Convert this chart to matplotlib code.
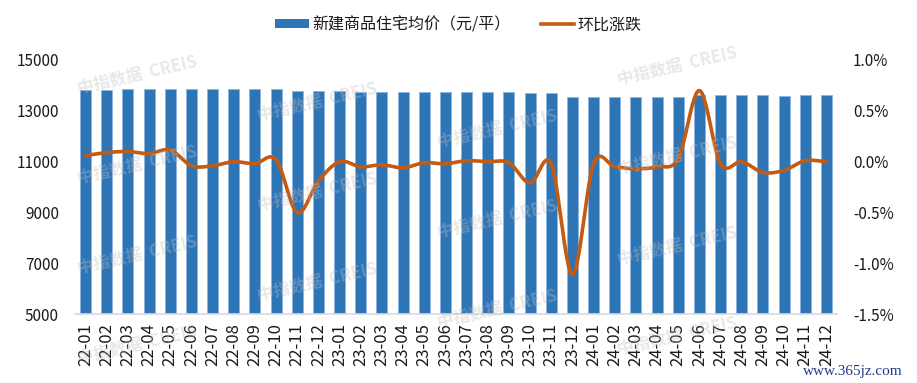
import numpy as np
import matplotlib
matplotlib.use('Agg')
import matplotlib.pyplot as plt
from matplotlib.patches import Patch
from matplotlib.lines import Line2D

months = ['22-01', '22-02', '22-03', '22-04', '22-05', '22-06', '22-07', '22-08', '22-09', '22-10', '22-11', '22-12',
          '23-01', '23-02', '23-03', '23-04', '23-05', '23-06', '23-07', '23-08', '23-09', '23-10', '23-11', '23-12',
          '24-01', '24-02', '24-03', '24-04', '24-05', '24-06', '24-07', '24-08', '24-09', '24-10', '24-11', '24-12']

prices = [13820, 13832, 13846, 13857, 13873, 13867, 13861, 13860, 13857, 13860, 13790, 13764,
          13764, 13757, 13753, 13745, 13744, 13741, 13742, 13742, 13741, 13712, 13710, 13560,
          13557, 13550, 13540, 13533, 13537, 13632, 13629, 13629, 13615, 13604, 13605, 13605]

mom = [0.06, 0.09, 0.10, 0.08, 0.115, -0.04, -0.04, 0.00, -0.02, 0.02, -0.50, -0.19,
       0.00, -0.05, -0.03, -0.06, -0.01, -0.02, 0.01, 0.00, -0.01, -0.21, -0.02, -1.11,
       -0.02, -0.05, -0.07, -0.05, 0.03, 0.70, -0.02, 0.00, -0.105, -0.085, 0.01, 0.00]

yticks_left = [5000, 7000, 9000, 11000, 13000, 15000]
yticks_right = [-1.5, -1.0, -0.5, 0.0, 0.5, 1.0]

legend_labels = ['新建商品住宅均价（元/平）', '环比涨跌']

plt.rcParams['font.family'] = ['Noto Sans CJK SC', 'DejaVu Sans']

W, H = 917, 383
fig = plt.figure(figsize=(W / 100, H / 100), dpi=100)
ax = fig.add_axes([75 / W, (H - 314.3) / H, 762 / W, 254.3 / H])

x = np.arange(len(months))
ax.bar(x, prices, width=0.52, color='#2E75B6', edgecolor='#8DB4E2', linewidth=0.6, zorder=2)
ax.set_xlim(-0.5, len(months) - 0.5)
ax.set_ylim(5000, 15000)
ax.set_yticks(yticks_left)
ax.set_yticklabels([str(v) for v in yticks_left], fontsize=11, color='#1a1a1a')
ax.tick_params(axis='y', length=0, pad=11.5)
ax.set_xticks(x)
ax.set_xticklabels(months, rotation=90, fontsize=12, color='#1a1a1a')
ax.tick_params(axis='x', length=0, pad=6.5)
for s in ['top', 'right', 'left']:
    ax.spines[s].set_visible(False)
ax.spines['bottom'].set_color('#D9D9D9')
ax.spines['bottom'].set_linewidth(1.2)


def catmull_rom(xs, ys, n=24):
    xs = np.asarray(xs, float)
    ys = np.asarray(ys, float)
    m = np.zeros_like(ys)
    m[1:-1] = (ys[2:] - ys[:-2]) / 2.0
    m[0] = ys[1] - ys[0]
    m[-1] = ys[-1] - ys[-2]
    ox, oy = [], []
    for i in range(len(ys) - 1):
        t = np.linspace(0, 1, n, endpoint=False)
        h00 = 2 * t**3 - 3 * t**2 + 1
        h10 = t**3 - 2 * t**2 + t
        h01 = -2 * t**3 + 3 * t**2
        h11 = t**3 - t**2
        oy.append(h00 * ys[i] + h10 * m[i] + h01 * ys[i + 1] + h11 * m[i + 1])
        ox.append(xs[i] + t * (xs[i + 1] - xs[i]))
    ox.append([xs[-1]])
    oy.append([ys[-1]])
    return np.concatenate(ox), np.concatenate(oy)


ax2 = ax.twinx()
sx, sy = catmull_rom(x, mom)
ax2.plot(sx, sy, color='#C55A11', lw=2.6, solid_capstyle='round', zorder=3)
ax2.set_ylim(-1.5, 1.0)
ax2.set_yticks(yticks_right)
ax2.set_yticklabels(['{:.1f}%'.format(v) for v in yticks_right], fontsize=11, color='#1a1a1a')
ax2.tick_params(axis='y', length=0, pad=11.5)
for s in ['top', 'right', 'left', 'bottom']:
    ax2.spines[s].set_visible(False)

handles = [Patch(facecolor='#2E75B6', edgecolor='none'),
           Line2D([0], [0], color='#C55A11', lw=2.6)]
fig.legend(handles, legend_labels, loc='center', bbox_to_anchor=(0.5, 1 - 25 / H), ncol=2,
           frameon=False, fontsize=11.5, handlelength=2.1, handletextpad=0.2,
           columnspacing=1.9, handleheight=0.5, labelcolor='#1a1a1a')

# watermarks (only those fully inside the canvas and clear of the legend)
for k in range(-2, 5):
    for j in range(0, 5):
        cx = 137 + 180 * j
        cy = 75 + 90 * k + 27 * j
        if 55 < cy < H - 22 and cx < W - 60:
            fig.text(cx / W, 1 - cy / H, '中指数据  CREIS', ha='center', va='center', rotation=13,
                     fontsize=12, fontweight='bold', color='#bfbfbf', alpha=0.35, zorder=10)

fig.text(853 / W, 1 - 372 / H, 'www.365jz.com', ha='center', va='center', fontsize=11,
         family=['Liberation Serif'], color='#1F3A8A', zorder=11)

fig.savefig('out.png', dpi=100)
